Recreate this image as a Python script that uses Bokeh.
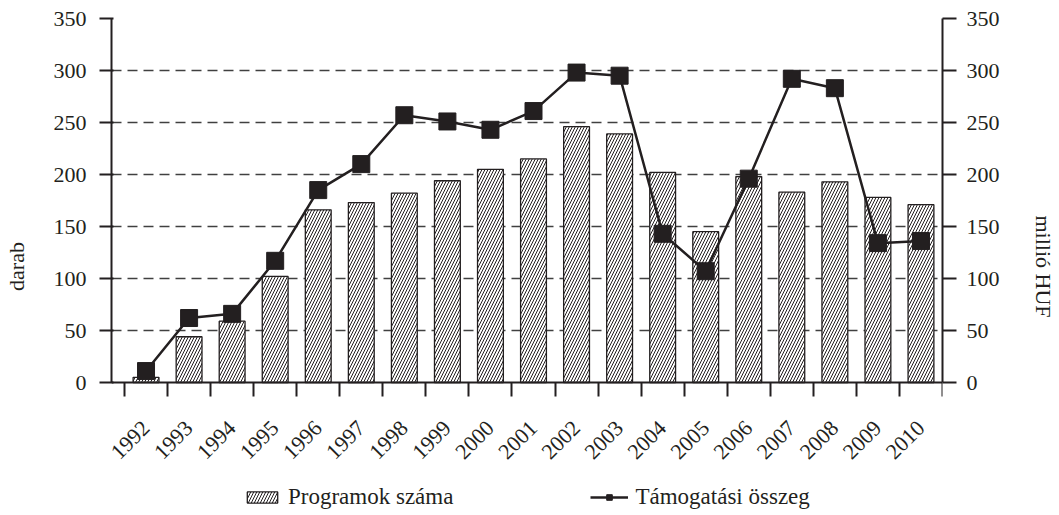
from bokeh.plotting import figure
from bokeh.models import (Range1d, LinearAxis, FixedTicker, Legend, LegendItem,
                          ColumnDataSource)
from bokeh.embed import file_html
from bokeh.resources import INLINE
import math

years = [1992, 1993, 1994, 1995, 1996, 1997, 1998, 1999, 2000, 2001,
         2002, 2003, 2004, 2005, 2006, 2007, 2008, 2009, 2010]
programok = [5, 44, 59, 102, 166, 173, 182, 194, 205, 215,
             246, 239, 202, 145, 198, 183, 193, 178, 171]
tamogatas = [11, 62, 66, 117, 185, 210, 257, 251, 243, 261,
             298, 295, 143, 107, 196, 292, 283, 134, 136]
y_ticks = [0, 50, 100, 150, 200, 250, 300, 350]

FONT = "Liberation Serif"
INK = "#231f20"
FS = "22px"

# layout: plotting area 364 px tall (0..350), frame extended below it
# so that tick labels and legend sit inside the frame
Y_TOP = 350
PLOT_H = 364
FRAME_H = 496
y_start = -Y_TOP * (FRAME_H - PLOT_H) / PLOT_H
CAT_PX = 818 / len(years)
LEFT_PAD = 13  # extra px on the left so the first rotated label is not clipped
x_start = years[0] - 0.5 - LEFT_PAD / CAT_PX

src = ColumnDataSource(dict(x=years, prog=programok, tam=tamogatas))

p = figure(frame_width=818 + LEFT_PAD, frame_height=FRAME_H,
           output_backend="svg", toolbar_location=None,
           x_range=Range1d(x_start, years[-1] + 0.5),
           y_range=Range1d(y_start, Y_TOP),
           min_border_left=106, min_border_right=119,
           min_border_top=18, min_border_bottom=0)
p.outline_line_color = None
p.background_fill_color = "white"
p.extra_y_ranges = {"right": Range1d(y_start, Y_TOP)}

# bars
bars = p.vbar(x="x", top="prog", width=0.6, source=src,
              fill_color="white", line_color=INK, line_width=1.3,
              hatch_pattern="/", hatch_color=INK, hatch_scale=6,
              hatch_weight=1)
# line
ln = p.line(x="x", y="tam", source=src, y_range_name="right",
            line_color=INK, line_width=2.5)
mk = p.scatter(x="x", y="tam", source=src, y_range_name="right",
               marker="square", size=17, fill_color=INK, line_color=INK)

# grid
p.xgrid.visible = False
p.ygrid.ticker = FixedTicker(ticks=y_ticks[1:])
p.ygrid.grid_line_color = "#404040"
p.ygrid.grid_line_dash = "10 6"
p.ygrid.grid_line_width = 1.5

def style_axis(ax):
    ax.axis_line_color = INK
    ax.axis_line_width = 2
    ax.major_tick_line_color = INK
    ax.major_tick_line_width = 2
    ax.minor_tick_line_color = INK
    ax.minor_tick_line_width = 2
    ax.major_label_text_font = FONT
    ax.major_label_text_font_size = FS
    ax.major_label_text_color = INK
    ax.axis_label_text_font = FONT
    ax.axis_label_text_font_size = FS
    ax.axis_label_text_font_style = "normal"
    ax.axis_label_text_color = INK

# left axis
ya = p.yaxis[0]
style_axis(ya)
ya.ticker = FixedTicker(ticks=y_ticks)
ya.bounds = (0, Y_TOP)
ya.major_tick_out = 12
ya.major_tick_in = 2
ya.minor_tick_out = 0
ya.minor_tick_in = 0
ya.major_label_standoff = 13
ya.axis_label = "darab"
ya.axis_label_standoff = 22

# right axis
ra = LinearAxis(y_range_name="right", ticker=FixedTicker(ticks=y_ticks),
                bounds=(0, Y_TOP))
style_axis(ra)
ra.major_tick_out = 14
ra.major_tick_in = 0
ra.minor_tick_out = 0
ra.minor_tick_in = 0
ra.major_label_standoff = 10
ra.axis_label = "millió HUF"
ra.axis_label_standoff = 28
p.add_layout(ra, "right")

# bottom axis at y = 0: labels at centres, tick marks between categories
xa = p.xaxis[0]
style_axis(xa)
xa.fixed_location = 0
bounds = [y - 0.5 for y in years] + [years[-1] + 0.5]
xa.ticker = FixedTicker(ticks=years, minor_ticks=bounds)
xa.major_label_overrides = {y: str(y) for y in years}
xa.major_tick_out = 0
xa.major_tick_in = 0
xa.minor_tick_out = 14
xa.minor_tick_in = 0
xa.major_label_orientation = math.pi / 4
xa.major_label_standoff = 28

# legend at the bottom of the frame
legend = Legend(items=[
    LegendItem(label="Programok száma", renderers=[bars]),
    LegendItem(label="Támogatási összeg", renderers=[ln, mk]),
], location=(132, 4), orientation="horizontal",
    padding=0, margin=0, spacing=137,
    glyph_width=38, glyph_height=14, label_standoff=7,
    label_text_font=FONT, label_text_font_size="23px",
    label_text_color=INK, border_line_color=None,
    background_fill_alpha=0)
p.add_layout(legend)

open("out.html", "w").write(file_html(p, INLINE))
